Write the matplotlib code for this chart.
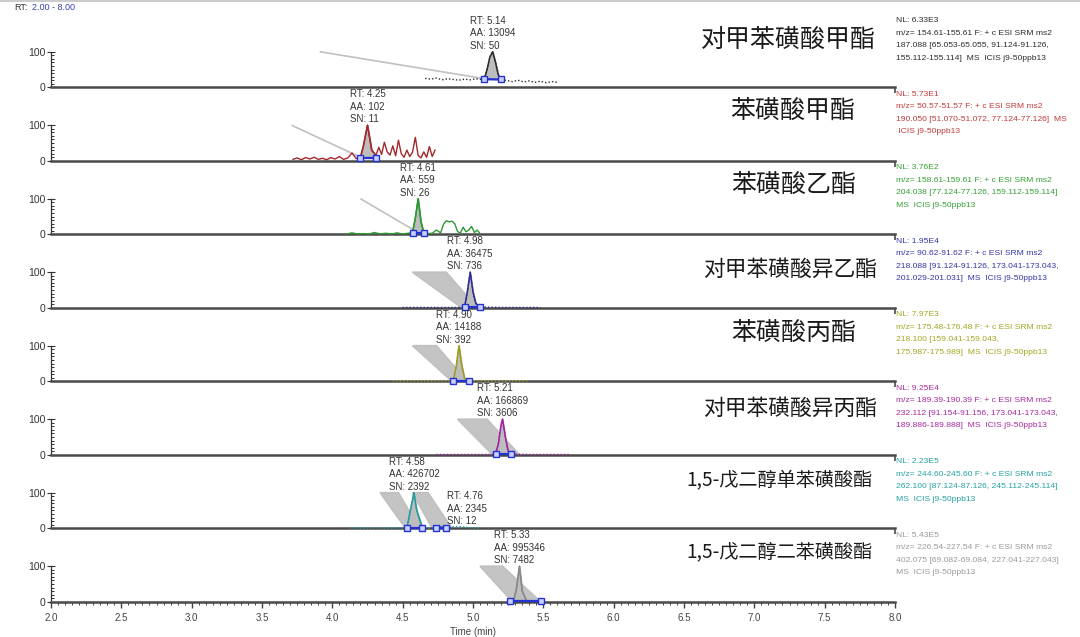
import numpy as np
import matplotlib.pyplot as plt
import matplotlib
from matplotlib.ticker import MultipleLocator, FormatStrFormatter

matplotlib.rcParams.update({'font.family': ['Liberation Sans', 'Noto Sans CJK SC', 'DejaVu Sans']})

### Compounds (top to bottom) ###
names = ['对甲苯磺酸甲酯', '苯磺酸甲酯', '苯磺酸乙酯', '对甲苯磺酸异乙酯',
         '苯磺酸丙酯', '对甲苯磺酸异丙酯', '1,5-戊二醇单苯磺酸酯', '1,5-戊二醇二苯磺酸酯']
trace_colors = ['#2b2b2b', '#a3282b', '#2e9a33', '#2b2b91', '#9d9d1e', '#a0229c', '#22999b', '#8a8a8a']
info_colors = ['#2b2b2b', '#c23a3a', '#33a033', '#3535a8', '#a5a520', '#a6289f', '#25a2a2', '#9a9a9a']
dotted = [True, False, False, True, True, True, True, False]

info = [
    ['NL: 6.33E3', 'm/z= 154.61-155.61 F: + c ESI SRM ms2', '187.088 [65.053-65.055, 91.124-91.126,',
     '155.112-155.114]  MS  ICIS j9-50ppb13'],
    ['NL: 5.73E1', 'm/z= 50.57-51.57 F: + c ESI SRM ms2', '190.050 [51.070-51.072, 77.124-77.126]  MS',
     ' ICIS j9-50ppb13'],
    ['NL: 3.76E2', 'm/z= 158.61-159.61 F: + c ESI SRM ms2', '204.038 [77.124-77.126, 159.112-159.114]',
     'MS  ICIS j9-50ppb13'],
    ['NL: 1.95E4', 'm/z= 90.62-91.62 F: + c ESI SRM ms2', '218.088 [91.124-91.126, 173.041-173.043,',
     '201.029-201.031]  MS  ICIS j9-50ppb13'],
    ['NL: 7.97E3', 'm/z= 175.48-176.48 F: + c ESI SRM ms2', '218.100 [159.041-159.043,',
     '175.987-175.989]  MS  ICIS j9-50ppb13'],
    ['NL: 9.25E4', 'm/z= 189.39-190.39 F: + c ESI SRM ms2', '232.112 [91.154-91.156, 173.041-173.043,',
     '189.886-189.888]  MS  ICIS j9-50ppb13'],
    ['NL: 2.23E5', 'm/z= 244.60-245.60 F: + c ESI SRM ms2', '262.100 [87.124-87.126, 245.112-245.114]',
     'MS  ICIS j9-50ppb13'],
    ['NL: 5.43E5', 'm/z= 226.54-227.54 F: + c ESI SRM ms2', '402.075 [69.082-69.084, 227.041-227.043]',
     'MS  ICIS j9-50ppb13'],
]

### Traces: time (min) and relative abundance (%) ###
p1_t = [4.66, 4.70, 4.74, 4.78, 4.82, 4.86, 4.90, 4.94, 4.98, 5.02, 5.06, 5.08, 5.10, 5.12, 5.14,
        5.16, 5.18, 5.20, 5.24, 5.28, 5.32, 5.36, 5.40, 5.44, 5.48, 5.52, 5.56, 5.60]
p1_v = [25, 23, 26, 21, 24, 22, 20, 23, 21, 24, 22, 23, 50, 85, 100, 70, 35, 22, 19, 16, 20, 15,
        18, 14, 17, 13, 16, 14]
p2_t = [3.72, 3.75, 3.78, 3.81, 3.84, 3.87, 3.90, 3.93, 3.96, 3.99, 4.02, 4.05, 4.08, 4.11, 4.14,
        4.17, 4.20, 4.22, 4.25, 4.28, 4.31, 4.33, 4.35, 4.37, 4.39, 4.41, 4.43, 4.45, 4.47, 4.49,
        4.51, 4.53, 4.55, 4.57, 4.59, 4.61, 4.63, 4.65, 4.67, 4.69, 4.71, 4.73]
p2_v = [4, 8, 3, 9, 5, 10, 4, 7, 3, 9, 5, 12, 4, 8, 22, 6, 10, 40, 100, 30, 15, 38, 18, 52, 25,
        16, 42, 14, 58, 20, 10, 30, 12, 24, 66, 15, 8, 25, 10, 40, 12, 30]
p3_t = [4.10, 4.14, 4.18, 4.22, 4.26, 4.30, 4.34, 4.38, 4.42, 4.46, 4.50, 4.54, 4.57, 4.59, 4.61,
        4.63, 4.65, 4.68, 4.71, 4.74, 4.77, 4.79, 4.81, 4.83, 4.85, 4.87, 4.89, 4.91, 4.93, 4.95,
        4.97, 4.99, 5.01, 5.03, 5.05]
p3_v = [1, 4, 1, 2, 1, 5, 1, 3, 1, 4, 1, 3, 5, 45, 100, 35, 5, 2, 3, 12, 4, 28, 38, 35, 37, 30,
        8, 3, 20, 7, 12, 22, 5, 12, 2]
p4_t = [4.50, 4.60, 4.70, 4.80, 4.88, 4.94, 4.96, 4.98, 5.00, 5.02, 5.05, 5.10, 5.20, 5.30, 5.40, 5.48]
p4_v = [1, 1, 1, 1, 1, 2, 45, 100, 45, 12, 3, 2, 1, 1, 1, 1]
p5_t = [4.43, 4.55, 4.65, 4.75, 4.83, 4.86, 4.88, 4.90, 4.92, 4.94, 4.97, 5.05, 5.15, 5.25, 5.39]
p5_v = [1, 1, 1, 1, 1, 2, 40, 100, 45, 8, 2, 1, 1, 1, 1]
p6_t = [4.74, 4.85, 4.95, 5.05, 5.12, 5.16, 5.18, 5.20, 5.21, 5.23, 5.25, 5.27, 5.30, 5.40, 5.50,
        5.60, 5.69]
p6_v = [1, 1, 1, 1, 1, 2, 30, 85, 100, 50, 10, 3, 2, 1, 1, 1, 1]
p7_t = [4.12, 4.22, 4.32, 4.42, 4.50, 4.53, 4.56, 4.58, 4.60, 4.64, 4.68, 4.72, 4.74, 4.76, 4.78,
        4.81, 4.85, 4.90, 4.95, 5.00, 5.05]
p7_v = [1, 1, 1, 1, 1, 2, 60, 100, 50, 2, 1, 2, 3, 5, 4, 2, 4, 5, 3, 1, 1]
p8_t = [5.26, 5.29, 5.31, 5.33, 5.35, 5.38, 5.42, 5.46, 5.48]
p8_v = [2, 3, 40, 100, 30, 3, 2, 3, 2]
traces_t = [p1_t, p2_t, p3_t, p4_t, p5_t, p6_t, p7_t, p8_t]
traces_v = [p1_v, p2_v, p3_v, p4_v, p5_v, p6_v, p7_v, p8_v]

### Integrated peaks (blue baseline markers) ###
pk_panel = [0, 1, 2, 3, 4, 5, 6, 6, 7]
pk_lo = [5.08, 4.20, 4.57, 4.94, 4.86, 5.16, 4.53, 4.74, 5.26]
pk_hi = [5.20, 4.31, 4.65, 5.05, 4.97, 5.27, 4.64, 4.81, 5.48]
pk_lv = [23, 8, 5, 2, 2, 2, 2, 2, 2]
pk_hv = [22, 8, 5, 2, 2, 2, 2, 2, 2]

### Peak labels ###
lab_panel = [0, 1, 2, 3, 4, 5, 6, 6, 7]
lab_rt = ['5.14', '4.25', '4.61', '4.98', '4.90', '5.21', '4.58', '4.76', '5.33']
lab_aa = ['13094', '102', '559', '36475', '14188', '166869', '426702', '2345', '995346']
lab_sn = ['50', '11', '26', '736', '392', '3606', '2392', '12', '7482']
lab_x = [5.14, 4.25, 4.61, 4.98, 4.90, 5.21, 4.58, 4.96, 5.33]
lab_y = [103, 103, 103, 103, 103, 103, 103, 6, 103]

### Grey peak "shadows" ###
sh_panel = [0, 1, 2, 3, 4, 5, 6, 6, 7]
sh_top_l = [3.91, 3.71, 4.20, 4.57, 4.57, 4.89, 4.34, 4.57, 5.05]
sh_top_r = [3.91, 3.71, 4.20, 4.81, 4.74, 5.10, 4.47, 4.68, 5.21]
sh_bot_l = [5.10, 4.20, 4.57, 4.92, 4.85, 5.14, 4.52, 4.71, 5.28]
sh_bot_r = [5.10, 4.20, 4.57, 5.03, 4.96, 5.33, 4.62, 4.85, 5.48]
sh_top_v = [100, 100, 100, 100, 100, 100, 100, 100, 100]
sh_bot_v = [23, 10, 14, 0, 0, 0, 0, 0, 0]

### Layout (pixels) ###
W, H = 1080, 637
X0, X1 = 51, 895
BASE0, STEP, FULL = 87.3, 73.5, 35.6
name_x = [788, 793, 794, 790, 794, 790, 780, 780]
name_y = [40, 111, 185, 270, 333, 409, 480, 552]
name_size = [18, 18, 18, 15.7, 18, 15.7, 13.8, 13.8]

fig = plt.figure(figsize=(W / 100, H / 100), dpi=100)
axes = []
for i in range(8):
    base = BASE0 + i * STEP
    ax = fig.add_axes([X0 / W, 1 - base / H, (X1 - X0) / W, FULL / H])
    ax.set_xlim(2, 8)
    ax.set_ylim(0, 100)
    ax.patch.set_alpha(0)
    for s in ['top', 'right']:
        ax.spines[s].set_visible(False)
    ax.spines['left'].set_bounds(0, 100)
    ax.spines['left'].set_color('#333333')
    ax.spines['left'].set_linewidth(0.9)
    ax.spines['bottom'].set_color('#4a4a4a')
    ax.spines['bottom'].set_linewidth(1.8)
    ax.set_yticks([0, 100])
    ax.yaxis.set_minor_locator(MultipleLocator(10))
    ax.tick_params(axis='y', which='major', direction='inout', length=6, width=0.8,
                   labelsize=7.5, pad=1, colors='#333333')
    ax.tick_params(axis='y', which='minor', direction='in', length=2.5, width=0.7, colors='#333333')
    if i < 7:
        ax.set_xticks([8.0])
        ax.set_xticklabels([''])
        ax.tick_params(axis='x', direction='out', length=4, width=1.2, colors='#4a4a4a')
    else:
        ax.xaxis.set_major_locator(MultipleLocator(0.5))
        ax.xaxis.set_minor_locator(MultipleLocator(0.05))
        ax.xaxis.set_major_formatter(FormatStrFormatter('%.1f'))
        ax.tick_params(axis='x', which='major', direction='out', length=4, width=1,
                       labelsize=7, colors='#444444', pad=4)
        ax.tick_params(axis='x', which='minor', direction='out', length=2.5, width=0.7, colors='#444444')
        ax.set_xlabel('Time (min)', fontsize=7, color='#444444', labelpad=3)
    axes.append(ax)

# shadows
for k in range(len(sh_panel)):
    ax = axes[sh_panel[k]]
    xs = [sh_top_l[k], sh_top_r[k], sh_bot_r[k], sh_bot_l[k]]
    ys = [sh_top_v[k], sh_top_v[k], sh_bot_v[k], sh_bot_v[k]]
    ax.fill(xs, ys, facecolor='#c4c4c4', edgecolor='#c0c0c0', lw=1.2, zorder=1, clip_on=False)

# traces
for i in range(8):
    ax = axes[i]
    t = np.array(traces_t[i])
    v = np.array(traces_v[i])
    if dotted[i]:
        ax.plot(t, v, color=trace_colors[i], lw=1, ls=(0, (1, 1.5)), zorder=3, clip_on=False)
    else:
        ax.plot(t, v, color=trace_colors[i], lw=1, zorder=3, clip_on=False)

# integrated peaks
for k in range(len(pk_panel)):
    i = pk_panel[k]
    ax = axes[i]
    t = np.array(traces_t[i])
    v = np.array(traces_v[i])
    m = (t > pk_lo[k]) & (t < pk_hi[k])
    ts = np.concatenate([[pk_lo[k]], t[m], [pk_hi[k]]])
    vs = np.interp(ts, t, v)
    base_line = np.interp(ts, [pk_lo[k], pk_hi[k]], [pk_lv[k], pk_hv[k]])
    ax.fill_between(ts, base_line, vs, color='#bdbdbd', zorder=2, clip_on=False)
    ax.plot(ts, vs, color=trace_colors[i], lw=1.1, zorder=3, clip_on=False)
    ax.plot([pk_lo[k], pk_hi[k]], [pk_lv[k], pk_hv[k]], color='#2433d0', lw=1.6, marker='s',
            ms=3.8, mfc='#c8ceff', mec='#2433d0', mew=1, zorder=4, clip_on=False)

# peak labels
for k in range(len(lab_panel)):
    axes[lab_panel[k]].text(lab_x[k], lab_y[k],
                            'RT: ' + lab_rt[k] + '\nAA: ' + lab_aa[k] + '\nSN: ' + lab_sn[k],
                            ha='center', va='bottom', multialignment='left', fontsize=7,
                            color='#333333', linespacing=1.3, zorder=5)

# compound names and scan info
for i in range(8):
    fig.text(name_x[i] / W, 1 - name_y[i] / H, names[i], ha='center', va='center',
             fontsize=name_size[i], color='#1a1a1a', family=['Noto Sans CJK SC', 'Liberation Sans'])
    top = BASE0 + (i - 1) * STEP + 3.5
    fig.text(896 / W, 1 - top / H, '\n'.join(info[i]), ha='left', va='top', fontsize=6.1,
             color=info_colors[i], linespacing=2.1)

fig.text(14 / W, 1 - 8 / H, 'RT:', ha='left', va='center', fontsize=6.5, color='#333333')
fig.text(32 / W, 1 - 8 / H, '2.00 - 8.00', ha='left', va='center', fontsize=6.5, color='#3344aa')
fig.add_artist(plt.Line2D([0, 1], [1 - 1 / H, 1 - 1 / H], color='#cccccc', lw=1.5))

plt.savefig('out.png', dpi=100)
